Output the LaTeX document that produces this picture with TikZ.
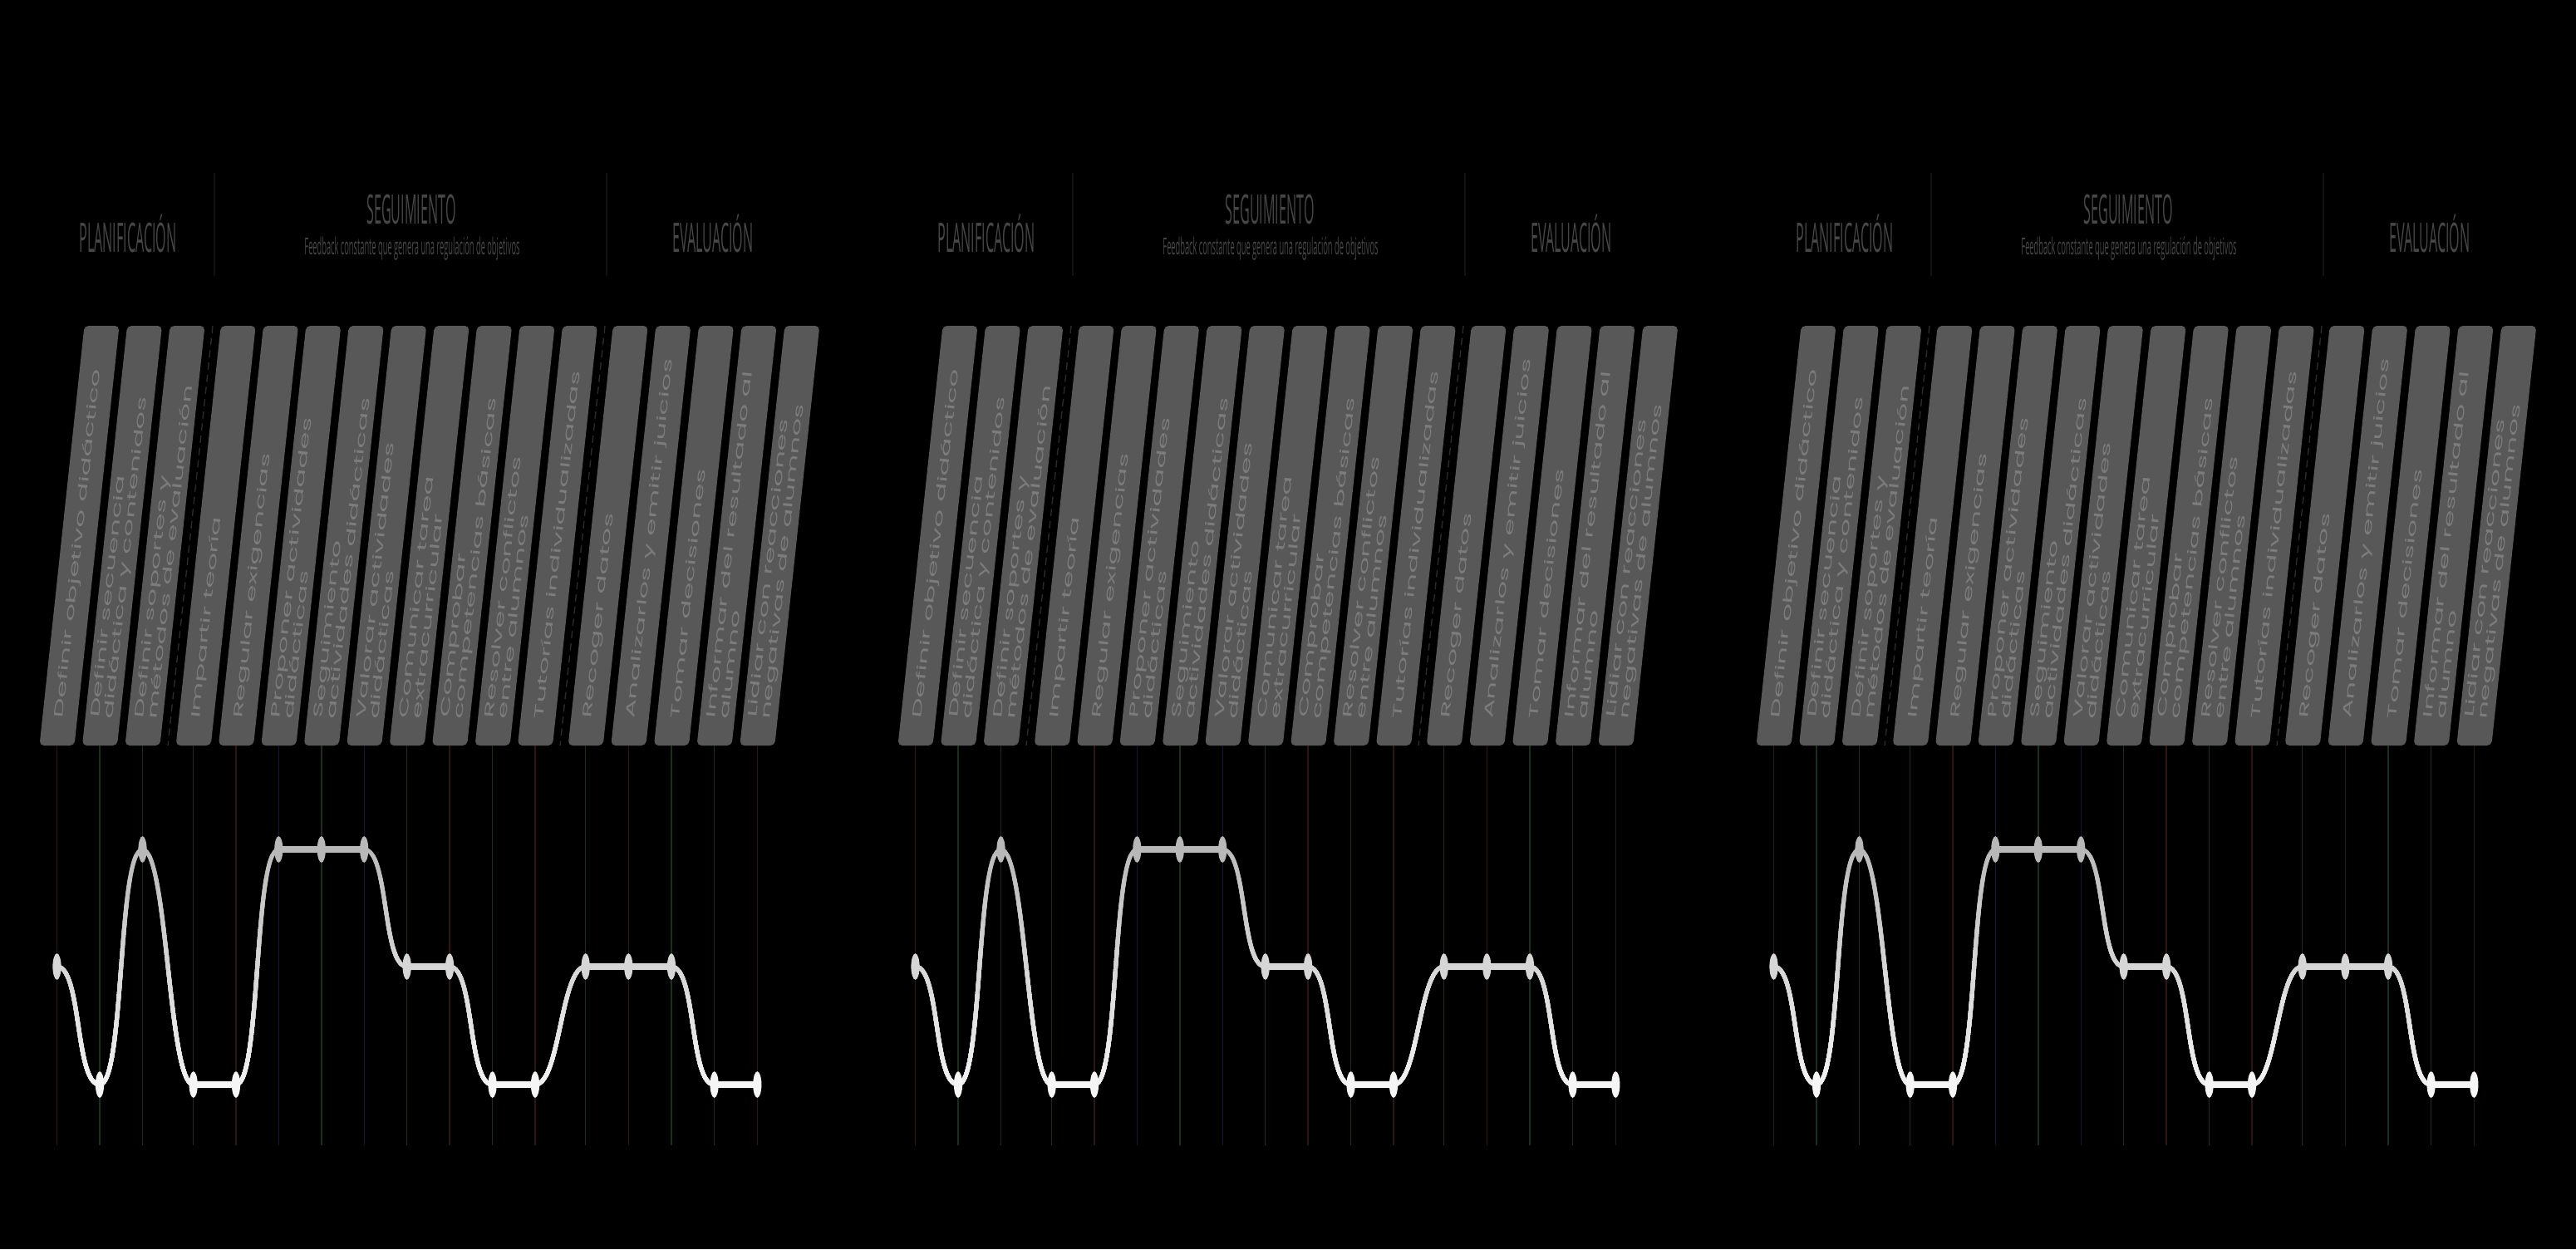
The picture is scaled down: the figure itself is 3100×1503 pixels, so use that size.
\documentclass[tikz,border=0pt]{standalone}
\usepackage{fontspec}
\setmainfont{Open Sans}
\newfontfamily\taskfont{Poppins}
\usepackage{tikz}
\usetikzlibrary{shapes.geometric}
\definecolor{planBg}{HTML}{000000}
\definecolor{planBar}{HTML}{585858}
\definecolor{planBarText}{HTML}{7C7C7C}
\definecolor{planHead}{HTML}{474747}
\definecolor{planSep}{HTML}{121212}
\definecolor{planDash}{HTML}{2A2A2A}
\definecolor{lineRed}{HTML}{301515}
\definecolor{lineGreen}{HTML}{1B301C}
\definecolor{lineBlue}{HTML}{15173A}
\definecolor{waveHigh}{HTML}{B8B8B8}
\definecolor{waveMid}{HTML}{D6D6D6}
\definecolor{waveLow}{HTML}{F5F5F5}

\begin{document}
\begin{tikzpicture}[x=.01cm,y=-.01cm,
  head/.style={text=planHead,font=\fontsize{13.9}{16}\selectfont,xscale=.33,inner sep=0},
  subhead/.style={text=planHead,font=\fontsize{8}{9}\selectfont,xscale=.33,inner sep=0},
  task/.style={text=planBarText,font=\taskfont\fontsize{4.3}{4.6}\selectfont,align=left,
    anchor=west,inner sep=0,rotate=83.9,xscale=2.25},
  ease/.style={to path={.. controls +(30,0) and +(-30,0) .. (\tikztotarget)}},
  wave/.style={line width=1.4pt},
  flat/.style={line width=2.4pt},
  dot/.style={ellipse,inner sep=0,minimum width=2.9pt,minimum height=9pt}]

  \fill[planBg] (0,0) rectangle (3100,1503);
  \foreach \p/\dx in {a/0,b/1033,c/2066}{
  \begin{scope}[shift={(\dx,0)}]
    \node[head] (\p-plan) at (154,281) {PLANIFICACIÓN};
    \node[head] (\p-seg) at (495,252) {SEGUIMIENTO};
    \node[subhead] (\p-feed) at (496,299) {Feedback constante que genera una regulación de objetivos};
    \node[head] (\p-eval) at (858,281) {EVALUACIÓN};
    \draw[planSep] (258,208) -- (258,332) (730,208) -- (730,332);
    \draw[planDash,dash pattern=on 2.5pt off 1.7pt] (256,392) -- (202,897) (728,392) -- (674,897);
    % bars, guide lines and wave points
    \foreach \x/\lv/\col/\txt [count=\i] in {
      68.5/1163/lineRed/{Definir objetivo didáctico},
      120/1305/lineGreen/{Definir secuencia\\didáctica y contenidos},
      171.5/1022/lineGreen/{Definir soportes y\\métodos de evaluación},
      232.7/1305/lineGreen/{Impartir teoría},
      284/1305/lineRed/{Regular exigencias},
      335.3/1022/lineBlue/{Proponer actividades\\didácticas},
      386.8/1022/lineGreen/{Seguimiento\\actividades didácticas},
      438.2/1022/lineBlue/{Valorar actividades\\didácticas},
      489.7/1163/lineGreen/{Comunicar tarea\\extracurricular},
      541.1/1163/lineRed/{Comprobar\\competencias básicas},
      592.6/1305/lineGreen/{Resolver conflictos\\entre alumnos},
      644/1305/lineRed/{Tutorías individualizadas},
      704.7/1163/lineGreen/{Recoger datos},
      756.3/1163/lineRed/{Analizarlos y emitir juicios},
      808/1163/lineGreen/{Tomar decisiones},
      859.6/1305/lineGreen/{Informar del resultado al\\alumno},
      911.3/1305/lineRed/{Lidiar con reacciones\\negativas de alumnos}}{
      \fill[planBar,rounded corners=1.5pt] (\x-21,897) -- (\x+33,392) -- (\x+75,392) -- (\x+21,897) -- cycle;
      \node[task] (\p-t\i) at (\x+3.3,866) {\txt};
      \draw[\col,line width=.4pt] (\x,897) -- (\x,1378);
      \coordinate (\p\i) at (\x,\lv);
    }
    \def\wavepath{(\p1) to[ease] (\p2) to[ease] (\p3) to[ease] (\p4) -- (\p5) to[ease] (\p6) -- (\p8)
      to[ease] (\p9) -- (\p10) to[ease] (\p11) -- (\p12) to[ease] (\p13) -- (\p15) to[ease] (\p16) -- (\p17)}
    \foreach \k in {0,...,11}{
      \pgfmathsetmacro\mix{\k*100/11}
      \begin{scope}
        \clip (0,1000+\k*28) rectangle (1000,1400);
        \draw[wave,draw=waveLow!\mix!waveHigh] \wavepath;
      \end{scope}}
    \draw[flat,waveHigh] (\p6) -- (\p8);
    \draw[flat,waveMid] (\p9) -- (\p10) (\p13) -- (\p15);
    \draw[flat,waveLow] (\p4) -- (\p5) (\p11) -- (\p12) (\p16) -- (\p17);
    \foreach \i/\dc in {1/waveMid,2/waveLow,3/waveHigh,4/waveLow,5/waveLow,6/waveHigh,7/waveHigh,
      8/waveHigh,9/waveMid,10/waveMid,11/waveLow,12/waveLow,13/waveMid,14/waveMid,15/waveMid,
      16/waveLow,17/waveLow}
      \node[dot,fill=\dc] (\p-d\i) at (\p\i) {};
  \end{scope}}
\end{tikzpicture}
\end{document}
